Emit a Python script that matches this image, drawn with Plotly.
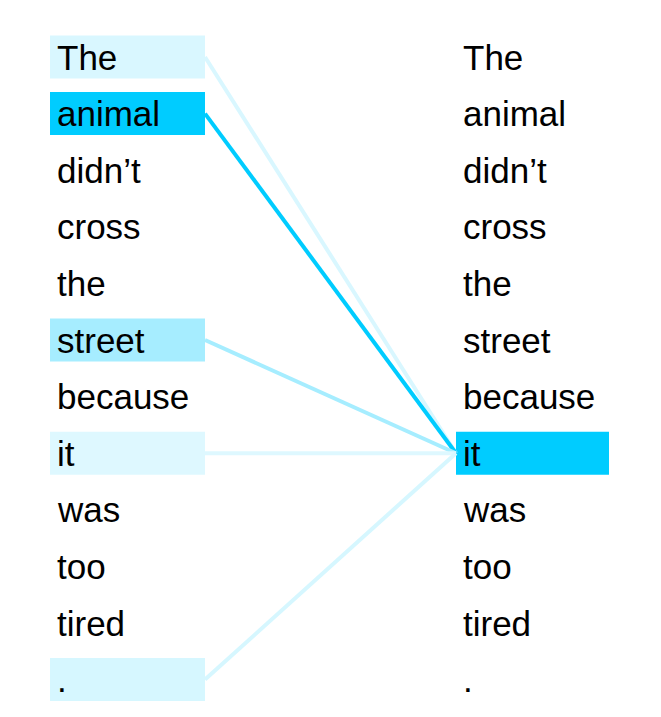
import plotly.graph_objects as go

# tokens of the sentence, same on both sides
tokens = ["The", "animal", "didn\u2019t", "cross", "the", "street", "because",
          "it", "was", "too", "tired", "."]
# attention weights from the query token "it" to each token on the left
weights = [0.15, 1.0, 0.0, 0.0, 0.0, 0.35, 0.0, 0.13, 0.0, 0.0, 0.0, 0.16]
query_index = 7

W, H = 661, 717
off = 8  # page body margin
row_top, row_step = 57, 56.6
left_x0, left_x1 = 50, 205
right_x0, right_x1 = 456, 609
half_box = 0.38


def blend(w):
    # white -> strong cyan (#00CCFF)
    r = round(255 - w * 255)
    g = round(255 - w * 51)
    return f"rgb({r},{g},255)"


fig = go.Figure()

# lines from each attended token to the query token
for i, w in enumerate(weights):
    if w <= 0:
        continue
    fig.add_trace(go.Scatter(
        x=[left_x1, right_x0], y=[i, query_index],
        mode="lines", line=dict(color=blend(w), width=4),
        hoverinfo="skip", showlegend=False
    ))

shapes = []
for i, w in enumerate(weights):
    if w > 0:
        shapes.append(dict(type="rect", xref="x", yref="y",
                           x0=left_x0, x1=left_x1, y0=i - half_box, y1=i + half_box,
                           fillcolor=blend(w), line=dict(width=0), layer="below"))
shapes.append(dict(type="rect", xref="x", yref="y",
                   x0=right_x0, x1=right_x1, y0=query_index - half_box, y1=query_index + half_box,
                   fillcolor=blend(1.0), line=dict(width=0), layer="below"))

annotations = []
for i, t in enumerate(tokens):
    for x in (55, 461):
        annotations.append(dict(x=x, y=i, xref="x", yref="y", text=t,
                                showarrow=False, xanchor="left", yanchor="middle",
                                font=dict(family="Liberation Sans, Arial", size=35, color="black")))

fig.update_layout(
    width=W, height=H,
    margin=dict(l=0, r=0, t=0, b=0),
    paper_bgcolor="white", plot_bgcolor="white",
    shapes=shapes, annotations=annotations,
    xaxis=dict(range=[off, W + off], visible=False, fixedrange=True),
    yaxis=dict(range=[(H + off - row_top) / row_step, (off - row_top) / row_step],
               visible=False, fixedrange=True),
)

fig.write_html("out.html")
